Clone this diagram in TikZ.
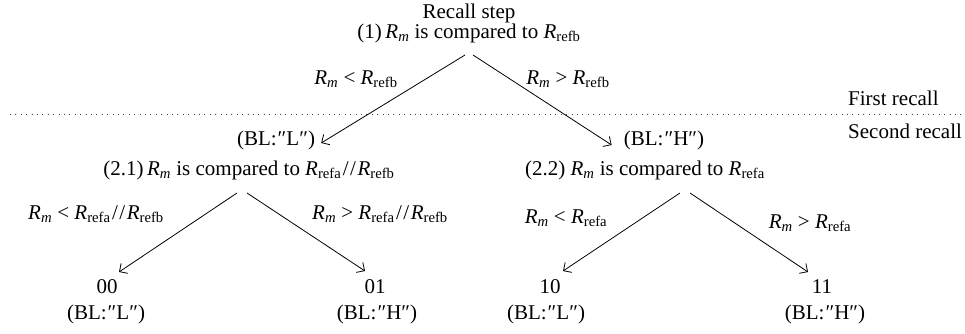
\documentclass[tikz,border=0pt]{standalone}
\usepackage{fontspec}
\setmainfont{Liberation Serif}
\usetikzlibrary{arrows.meta,calc}
\newcommand{\Rm}{\textit{R}\textsubscript{\textit{m}}}
\newcommand{\Rr}[1]{\textit{R}\textsubscript{#1}}
\newcommand{\BLtext}[1]{(BL:\kern1pt″#1″)}
\newcommand{\dslash}{\kern1.5pt/\kern1.5pt/\kern1.5pt}
\begin{document}
\begin{tikzpicture}[x=1pt,y=-1pt,
  font=\fontsize{21}{20}\selectfont,
  every node/.style={inner sep=0pt},
  txt/.style={align=center},
  arr/.style={-{Straight Barb[length=6pt,width=12pt]}, line width=0.8pt},
  dotline/.style={line width=0.8pt, black!75, dash pattern=on 0.8pt off 4.6pt}]
\useasboundingbox (0,0) rectangle (965,334);

% levels text
\node[anchor=west] (fr) at (848,98) {First recall};
\node[anchor=west] (sr) at (848,131) {Second recall};
\coordinate (dl) at (10,114);
\coordinate (dr) at (965,114);
\draw[dotline] (dl) -- (dr);

% root
\node[txt] (top) at (469,23) {Recall step\\(1)\,\Rm{} is compared to \Rr{refb}};

% first-level results
\node (blL) at (276,140) {\BLtext{L}};
\node (blH) at (664,140) {\BLtext{H}};
\node (c21) at (249,170) {(2.1)\,\Rm{} is compared to \Rr{refa}\dslash\Rr{refb}};
\node (c22) at (645,170) {(2.2) \Rm{} is compared to \Rr{refa}};

% edge labels
\node (e1L) at (356,79) {\Rm{} < \Rr{refb}};
\node (e1R) at (568,79) {\Rm{} > \Rr{refb}};
\node (e21L) at (96,214) {\Rm{} < \Rr{refa}\dslash\Rr{refb}};
\node (e21R) at (380,214) {\Rm{} > \Rr{refa}\dslash\Rr{refb}};
\node (e22L) at (566,218) {\Rm{} < \Rr{refa}};
\node (e22R) at (810,223) {\Rm{} > \Rr{refa}};

% leaves
\node (n00) at (107,287) {00};
\node (b00) at (106,314) {\BLtext{L}};
\node (n01) at (375,287) {01};
\node (b01) at (377,314) {\BLtext{H}};
\node (n10) at (550,287) {10};
\node (b10) at (546,314) {\BLtext{L}};
\node (n11) at (822,287) {11};
\node (b11) at (825,314) {\BLtext{H}};

% arrows
\draw[arr] ($(top.center)+(-4,32)$) -- ($(blL.east)+(6,3)$);
\draw[arr] ($(top.center)+(4,32)$) -- ($(blH.west)+(-12,5)$);
\draw[arr] ($(c21.center)+(-12,23)$) -- ($(n00.center)+(12,-15)$);
\draw[arr] ($(c21.center)+(-2,23)$) -- ($(n01.center)+(-10,-16)$);
\draw[arr] ($(c22.center)+(35,23)$) -- ($(n10.center)+(13,-16)$);
\draw[arr] ($(c22.center)+(45,23)$) -- ($(n11.center)+(-14,-15)$);
\end{tikzpicture}
\end{document}
